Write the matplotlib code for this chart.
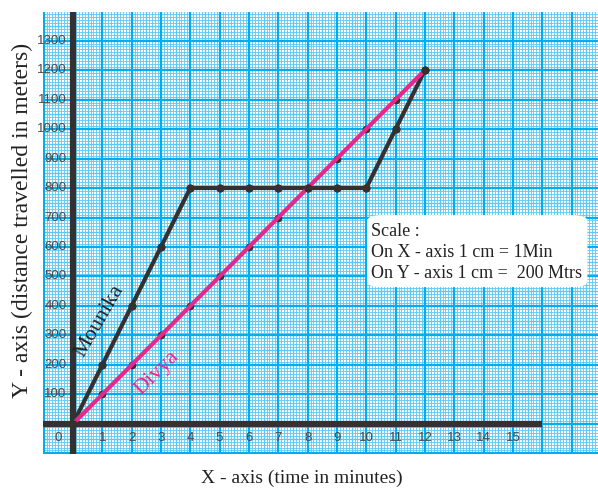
import numpy as np
import matplotlib.pyplot as plt
from matplotlib.patches import FancyBboxPatch

# data
minutes = [0, 1, 2, 3, 4, 5, 6, 7, 8, 9, 10, 11, 12]
mounika = [0, 200, 400, 600, 800, 800, 800, 800, 800, 800, 800, 1000, 1200]
divya = [0, 100, 200, 300, 400, 500, 600, 700, 800, 900, 1000, 1100, 1200]
y_ticks = [100, 200, 300, 400, 500, 600, 700, 800, 900, 1000, 1100, 1200, 1300]
x_ticks = list(range(1, 16))

cyan = '#00aeef'
light = '#5cc8f2'
dark = '#333132'
pink = '#e6288a'
tick_font = ['Liberation Sans Narrow', 'Liberation Sans']

fig = plt.figure(figsize=(5.98, 4.92), dpi=100)
ax = fig.add_axes([43 / 598, 38 / 492, 1 - 43 / 598, 442 / 492])
ax.set_xlim(-1.02, 17.9)
ax.set_ylim(-102, 1397)
ax.set_facecolor('white')
for s in ax.spines.values():
    s.set_visible(False)
ax.set_xticks([])
ax.set_yticks([])

# graph paper
for v in np.arange(-1, 18.01, 0.1):
    if abs(v - round(v)) < 1e-6:
        ax.axvline(v, color=cyan, lw=1.6, zorder=0.5)
    elif abs(v * 2 - round(v * 2)) < 1e-6:
        ax.axvline(v, color=light, lw=1.0, zorder=0.3)
    else:
        ax.axvline(v, color=light, lw=0.6, zorder=0.2)
for v in np.arange(-100, 1401, 10):
    if v % 100 == 0:
        ax.axhline(v, color=cyan, lw=1.6, zorder=0.5)
    elif v % 50 == 0:
        ax.axhline(v, color=light, lw=1.0, zorder=0.3)
    else:
        ax.axhline(v, color=light, lw=0.6, zorder=0.2)

# axes lines
ax.plot([0, 0], [-102, 1397], color=dark, lw=4.5, zorder=2, solid_capstyle='butt')
ax.plot([-1.02, 16], [0, 0], color=dark, lw=4.5, zorder=2, solid_capstyle='butt')

# tick labels
for t in y_ticks:
    ax.text(-0.22, t, str(t), ha='right', va='center', fontsize=9.5,
            color='#4a4a4a', family=tick_font, zorder=3)
ax.text(-0.5, -48, '0', ha='center', va='center', fontsize=9.5,
        color='#4a4a4a', family=tick_font, zorder=3)
for t in x_ticks:
    ax.text(t, -48, str(t), ha='center', va='center', fontsize=9.5,
            color='#4a4a4a', family=tick_font, zorder=3)

# series
ax.plot(minutes, mounika, color=dark, lw=3, zorder=4, solid_capstyle='round')
ax.plot(minutes, divya, color=pink, lw=3, zorder=5, solid_capstyle='round')
ax.plot(minutes, mounika, 'o', color=dark, ms=5, zorder=6)
ax.plot(minutes, divya, 'o', color=dark, ms=4.5, zorder=4.5)

ax.text(0.92, 349, 'Mounika', rotation=60, ha='center', va='center',
        fontsize=16, family='Liberation Serif', color='#222222', zorder=7)
ax.text(2.87, 173, 'Divya', rotation=45, ha='center', va='center',
        fontsize=16, family='Liberation Serif', color=pink, zorder=7)

# scale box
box = FancyBboxPatch((10.03, 464), 7.51, 244, boxstyle='round,pad=0,rounding_size=0.5',
                     fc='white', ec='none', zorder=8, mutation_aspect=40)
ax.add_patch(box)
scale_lines = ['Scale :', 'On X - axis 1 cm = 1Min', 'On Y - axis 1 cm =  200 Mtrs']
for i, s in enumerate(scale_lines):
    ax.text(10.17, 651 - 70 * i, s, ha='left', va='center', fontsize=13,
            family='Liberation Serif', color='#222222', zorder=9)

fig.text(22 / 598, 1 - 220 / 492, 'Y - axis (distance travelled in meters)', rotation=90,
         ha='center', va='center', fontsize=17, family='Liberation Serif', color='#222222')
fig.text(302 / 598, 1 - 478 / 492, 'X - axis (time in minutes)', ha='center', va='center',
         fontsize=14, family='Liberation Serif', color='#222222')

fig.savefig('out.png', dpi=100)
